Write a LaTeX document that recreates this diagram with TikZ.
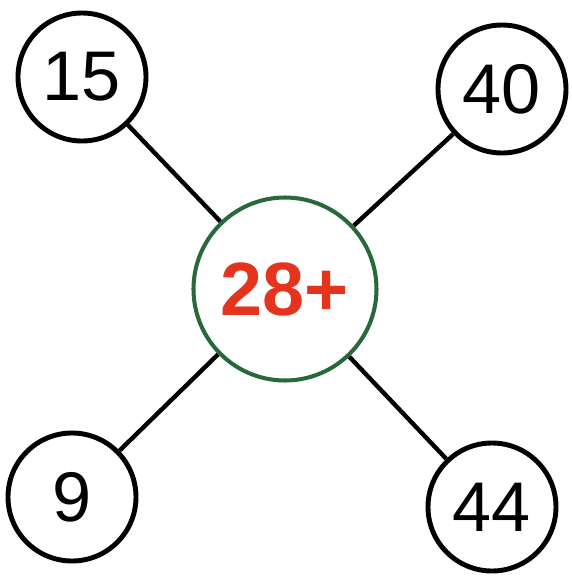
\documentclass[tikz,border=0pt]{standalone}
\usepackage{fontspec}
\setmainfont{Liberation Sans}
\usepackage{tikz}

\definecolor{hubred}{RGB}{228,52,30}
\definecolor{hubgreen}{RGB}{40,105,60}

\begin{document}
\begin{tikzpicture}[
  leaf/.style={circle, draw=black, line width=2.8pt, minimum size=2.56cm, inner sep=0pt, font=\fontsize{40}{40}\selectfont},
  hub/.style={circle, draw=hubgreen, line width=2.3pt, minimum size=3.66cm, inner sep=0pt, text=hubred, font=\fontsize{43}{43}\selectfont\bfseries},
  spoke/.style={black, line width=2.5pt}]
  \useasboundingbox (0,0) rectangle (11.44,-11.54);
  \node[hub] (mid) at (5.70,-5.78) {28+};
  \node[leaf] (tl) at (1.64,-1.54) {15};
  \node[leaf] (tr) at (10.04,-1.78) {40};
  \node[leaf] (bl) at (1.44,-9.94) {9};
  \node[leaf] (br) at (9.84,-10.14) {44};
  \draw[spoke] (tl) -- (mid);
  \draw[spoke] (tr) -- (mid);
  \draw[spoke] (bl) -- (mid);
  \draw[spoke] (br) -- (mid);
\end{tikzpicture}
\end{document}
